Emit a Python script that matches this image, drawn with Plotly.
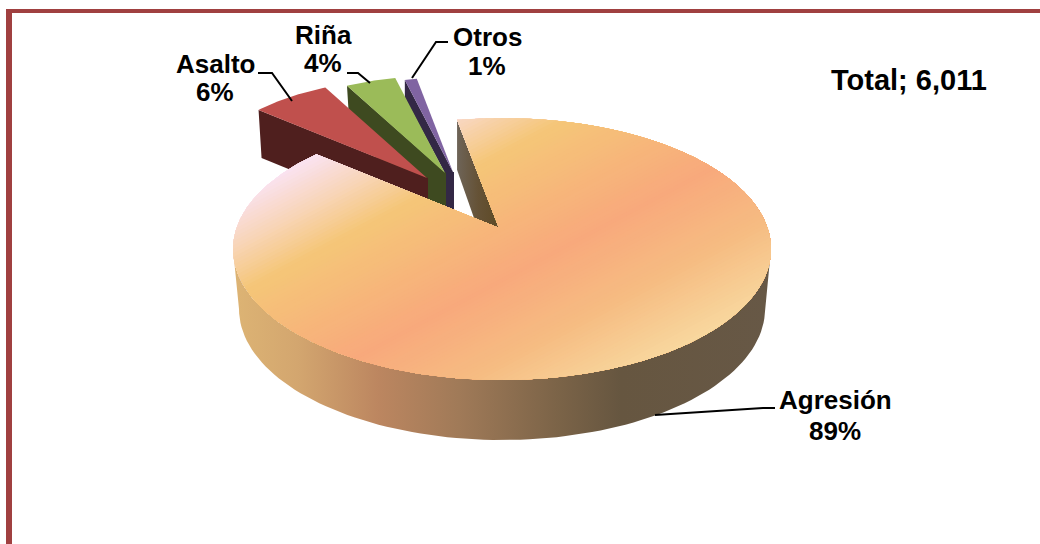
import math
import plotly.graph_objects as go

# ---- data ----
labels = ["Agresión", "Asalto", "Riña", "Otros"]
values = [89, 6, 4, 1]
total_label = "Total; 6,011"

# ---- layout of the drawing ----
W, H = 1040, 544
START = -10.7
AX, BX = 269.0, 131.0
SLICE_GEO = {
    "Agresión": dict(apex=(499, 228), center=(502, 249), s=1.0),
    "Asalto": dict(apex=(427, 178), center=(404, 178), s=0.75),
    "Riña": dict(apex=(445, 173), center=(434, 173), s=0.74),
    "Otros": dict(apex=(453, 172), center=(453, 172), s=0.725),
}
TOP = {"Asalto": "#C0504D", "Riña": "#9BBB59", "Otros": "#8064A2"}
WALL = {"Asalto": "#4F1F1E", "Riña": "#3E4A20", "Otros": "#332845"}
FRAME = "#A04040"


def ray(geo, theta):
    """Point where the ray from the apex at angle theta meets the slice's rim."""
    t = math.radians(theta)
    a, b = AX * geo["s"], BX * geo["s"]
    ax, ay = geo["apex"]
    cx, cy = geo["center"]
    dx, dy = math.sin(t) * AX, -math.cos(t) * BX
    ox, oy = (ax - cx) / a, (ay - cy) / b
    ux, uy = dx / a, dy / b
    A = ux * ux + uy * uy
    B = 2 * (ox * ux + oy * uy)
    C = ox * ox + oy * oy - 1
    k = (-B + math.sqrt(B * B - 4 * A * C)) / (2 * A)
    return ax + k * dx, ay + k * dy


def slice_outline(geo, start, sweep):
    n = max(6, int(sweep * 1.5))
    rim = [ray(geo, start + sweep * i / n) for i in range(n + 1)]
    return [geo["apex"]] + rim


def clip(poly, nx, ny, d):
    """Keep the part of poly where nx*x + ny*y >= d."""
    out = []
    m = len(poly)
    for i in range(m):
        p, q = poly[i], poly[(i + 1) % m]
        fp = nx * p[0] + ny * p[1] - d
        fq = nx * q[0] + ny * q[1] - d
        if fp >= 0:
            out.append(p)
        if (fp >= 0) != (fq >= 0):
            r = fp / (fp - fq)
            out.append((p[0] + r * (q[0] - p[0]), p[1] + r * (q[1] - p[1])))
    return out


def hex2rgb(c):
    return tuple(int(c[i:i + 2], 16) for i in (1, 3, 5))


def ramp(stops, u):
    if u <= stops[0][0]:
        return stops[0][1]
    for (u0, c0), (u1, c1) in zip(stops, stops[1:]):
        if u <= u1:
            r = (u - u0) / (u1 - u0)
            a, b = hex2rgb(c0), hex2rgb(c1)
            return "rgb(%d,%d,%d)" % tuple(round(a[i] + r * (b[i] - a[i])) for i in range(3))
    return stops[-1][1]


fig = go.Figure()


def poly_trace(pts, color=None, **kw):
    xs = [p[0] for p in pts] + [pts[0][0]]
    ys = [p[1] for p in pts] + [pts[0][1]]
    args = dict(x=xs, y=ys, mode="lines", fill="toself", line=dict(width=0),
                hoverinfo="skip", showlegend=False)
    if color:
        args["fillcolor"] = color
    args.update(kw)
    fig.add_trace(go.Scatter(**args))


# angular extent of each slice, from the values
sweeps = [v / sum(values) * 360 for v in values]
starts = []
acc = START
for s in sweeps:
    starts.append(acc)
    acc += s

# small exploded slices, back to front
for i in (3, 2, 1):
    name = labels[i]
    geo = SLICE_GEO[name]
    ax_, ay_ = geo["apex"]
    ox, oy = ray(geo, starts[i])
    if name == "Otros":
        wall = [(ox, oy), (ox, oy + 18), (ax_ - 7, ay_ + 3), (ax_ - 7, ay_ + 36),
                (ax_ + 1, ay_ + 39), (ax_ + 1, ay_), (ax_, ay_)]
    else:
        wall = [(ox, oy), (ox + 3, oy + 48), (ax_ + 1, ay_ + 48), (ax_ + 1, ay_)]
    poly_trace(wall, WALL[name])
    poly_trace(slice_outline(geo, starts[i], sweeps[i]), TOP[name])

# main slice: radial face in the notch
geo = SLICE_GEO["Agresión"]
ax_, ay_ = geo["apex"]
ox, oy = ray(geo, starts[0])
poly_trace([(ox, oy), (ox, oy + 50), (ax_ - 25, ay_ - 10), (ax_, ay_)],
           fillgradient=dict(type="horizontal",
                             colorscale=[[0, "#6E6458"], [0.5, "#655236"], [1, "#5E4A26"]]))

# main slice: outer wall
cx, cy = geo["center"]
DEPTH = 60
AW = 263
wall = []
for d in range(90, 271, 2):
    t = math.radians(d)
    wall.append((cx + AX * math.sin(t), cy - BX * math.cos(t)))
for d in range(270, 89, -2):
    t = math.radians(d)
    wall.append((cx + AW * math.sin(t), cy + DEPTH - BX * math.cos(t)))
poly_trace(wall, fillgradient=dict(
    type="horizontal",
    colorscale=[[0, "#DDB474"], [0.12, "#D3A66F"], [0.27, "#BC8660"], [0.42, "#A07A58"],
                [0.6, "#7C6448"], [0.72, "#665640"], [1, "#675846"]]))

# main slice: top face, painted as diagonal bands
outline = slice_outline(geo, starts[0], sweeps[0])
STOPS = [(0, "#FAE2F0"), (42, "#F8D5B8"), (85, "#F5C678"), (197, "#F8A97C"),
         (270, "#F6BC82"), (345, "#F8D9A0")]
nx, ny = 0.47, 0.883
d0 = nx * 285 + ny * 170
N = 110
for k in range(N):
    u = -20 + k * 380 / N
    pts = outline if k == 0 else clip(outline, nx, ny, d0 + u)
    if len(pts) >= 3:
        poly_trace(pts, ramp(STOPS, u))

# leader lines
LEADERS = [
    [(258, 73), (272, 73), (292, 101)],
    [(347, 73), (358, 73), (370, 83)],
    [(412, 78), (436, 42), (448, 42)],
    [(655, 415), (763, 408), (775, 408)],
]
for L in LEADERS:
    fig.add_trace(go.Scatter(x=[p[0] for p in L], y=[p[1] for p in L], mode="lines",
                             line=dict(color="black", width=2), hoverinfo="skip",
                             showlegend=False))

# text
POS = {"Agresión": (835, 400, 431), "Asalto": (215, 64, 92), "Riña": (323, 35, 63), "Otros": (487, 37, 66)}
FONT = dict(family="Liberation Sans, Arial, sans-serif", size=26, color="black")
ann = []
for n, v in zip(labels, values):
    x, y1, y2 = POS[n]
    ann.append(dict(x=x, y=y1, text="<b>%s</b>" % n, showarrow=False, font=FONT))
    ann.append(dict(x=x, y=y2, text="<b>%d%%</b>" % v, showarrow=False, font=FONT))
ann.append(dict(x=909, y=80, text="<b>%s</b>" % total_label, showarrow=False,
                font=dict(FONT, size=29)))

shapes = [
    dict(type="rect", x0=6, x1=1040, y0=9, y1=13, fillcolor=FRAME, line_width=0),
    dict(type="rect", x0=6, x1=12, y0=9, y1=544, fillcolor=FRAME, line_width=0),
]

fig.update_layout(
    width=W, height=H, margin=dict(l=0, r=0, t=0, b=0), showlegend=False,
    paper_bgcolor="white", plot_bgcolor="white", annotations=ann, shapes=shapes,
    xaxis=dict(range=[0, W], visible=False, fixedrange=True),
    yaxis=dict(range=[H, 0], visible=False, fixedrange=True),
)
fig.write_html("out.html", config={"displayModeBar": False},
               post_script="document.body.style.margin='0';document.body.style.overflow='hidden';")
